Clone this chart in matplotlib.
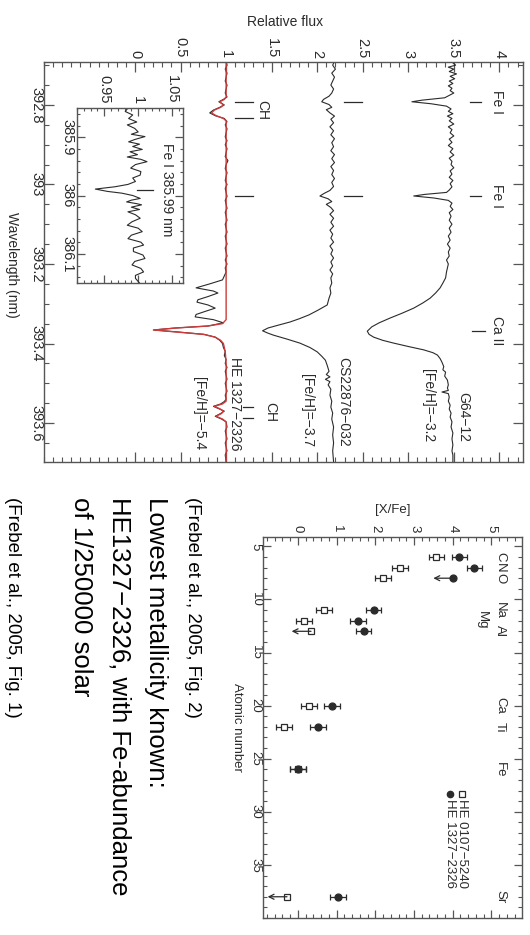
import matplotlib
matplotlib.use("Agg")
import matplotlib.pyplot as plt
from matplotlib.ticker import MultipleLocator

plt.rcParams['font.family'] = ['Liberation Sans', 'DejaVu Sans']

W, H, DPI = 530, 935, 100
INK = '#2b2b2b'
FRAME = '#555555'
RED = '#d03a3a'

# ---- Spektre (bølgelængde i nm, relativ flux) ----
g64_wl = [392.690, 392.700, 392.705, 392.710, 392.716, 392.722, 392.728, 392.734, 392.740, 392.746,
          392.752, 392.758, 392.764, 392.770, 392.776, 392.782, 392.788, 392.792, 392.797, 392.803,
          392.810, 392.816, 392.822, 392.828, 392.834, 392.840, 392.848, 392.855, 392.862, 392.870,
          392.878, 392.886, 392.894, 392.902, 392.910, 392.918, 392.926, 392.934, 392.942, 392.950,
          392.958, 392.966, 392.974, 392.982, 392.990, 392.998, 393.006, 393.014, 393.020, 393.025,
          393.029, 393.034, 393.040, 393.047, 393.055, 393.063, 393.071, 393.080, 393.090, 393.100,
          393.110, 393.120, 393.130, 393.140, 393.150, 393.160, 393.170, 393.180, 393.190, 393.200,
          393.210, 393.220, 393.235, 393.248, 393.260, 393.273, 393.286, 393.298, 393.311, 393.324,
          393.336, 393.348, 393.358, 393.369, 393.377, 393.384, 393.392, 393.399, 393.408, 393.416,
          393.423, 393.429, 393.438, 393.447, 393.458, 393.466, 393.472, 393.482, 393.492, 393.504,
          393.512, 393.518, 393.522, 393.526, 393.535, 393.545, 393.555, 393.565, 393.575, 393.585,
          393.597, 393.610, 393.625, 393.640, 393.655, 393.670, 393.681, 393.698]
g64_flux = [3.47, 3.52, 3.44, 3.50, 3.45, 3.53, 3.46, 3.51, 3.45, 3.49,
            3.44, 3.48, 3.46, 3.50, 3.45, 3.40, 3.15, 3.04, 3.25, 3.42,
            3.47, 3.44, 3.49, 3.43, 3.48, 3.45, 3.50, 3.44, 3.48, 3.46,
            3.50, 3.45, 3.48, 3.44, 3.49, 3.46, 3.50, 3.45, 3.48, 3.47,
            3.50, 3.46, 3.48, 3.45, 3.49, 3.46, 3.48, 3.45, 3.42, 3.18,
            3.06, 3.28, 3.44, 3.48, 3.46, 3.49, 3.45, 3.47, 3.45, 3.48,
            3.45, 3.47, 3.44, 3.46, 3.43, 3.46, 3.44, 3.45, 3.42, 3.44,
            3.43, 3.42, 3.41, 3.38, 3.35, 3.30, 3.24, 3.16, 3.06, 2.93,
            2.80, 2.68, 2.60, 2.55, 2.57, 2.62, 2.72, 2.84, 3.01, 3.17,
            3.27, 3.32, 3.35, 3.37, 3.39, 3.38, 3.41, 3.40, 3.43, 3.44,
            3.43, 3.44, 3.37, 3.44, 3.45, 3.44, 3.46, 3.45, 3.47, 3.46,
            3.48, 3.47, 3.49, 3.48, 3.49, 3.48, 3.49, 3.49]

cs_wl = [392.690, 392.700, 392.710, 392.720, 392.730, 392.740, 392.750, 392.760, 392.770, 392.778,
         392.786, 392.792, 392.799, 392.806, 392.812, 392.820, 392.828, 392.836, 392.845, 392.855,
         392.865, 392.875, 392.885, 392.895, 392.905, 392.915, 392.925, 392.935, 392.945, 392.955,
         392.965, 392.975, 392.985, 392.995, 393.005, 393.015, 393.022, 393.029, 393.036, 393.043,
         393.050, 393.058, 393.066, 393.075, 393.085, 393.095, 393.105, 393.115, 393.125, 393.135,
         393.145, 393.155, 393.165, 393.175, 393.185, 393.195, 393.205, 393.215, 393.225, 393.235,
         393.248, 393.260, 393.273, 393.286, 393.303, 393.316, 393.328, 393.338, 393.346, 393.354,
         393.361, 393.368, 393.374, 393.379, 393.389, 393.399, 393.410, 393.421, 393.432, 393.442,
         393.455, 393.470, 393.478, 393.484, 393.490, 393.496, 393.504, 393.515, 393.530, 393.545,
         393.560, 393.575, 393.590, 393.610, 393.630, 393.650, 393.670, 393.698]
cs_flux = [2.19, 2.17, 2.20, 2.16, 2.19, 2.17, 2.15, 2.18, 2.16, 2.13,
           2.07, 2.05, 2.13, 2.16, 2.10, 2.14, 2.19, 2.15, 2.18, 2.14,
           2.18, 2.15, 2.19, 2.16, 2.18, 2.15, 2.19, 2.16, 2.19, 2.15,
           2.18, 2.16, 2.19, 2.16, 2.18, 2.14, 2.08, 2.03, 2.12, 2.16,
           2.10, 2.15, 2.18, 2.14, 2.18, 2.15, 2.18, 2.14, 2.17, 2.15,
           2.18, 2.14, 2.17, 2.15, 2.18, 2.15, 2.17, 2.14, 2.17, 2.15,
           2.16, 2.14, 2.15, 2.13, 2.11, 2.01, 1.91, 1.80, 1.70, 1.57,
           1.46, 1.40, 1.46, 1.52, 1.67, 1.81, 1.92, 2.00, 2.05, 2.09,
           2.11, 2.13, 2.10, 2.14, 2.09, 2.14, 2.12, 2.15, 2.14, 2.16,
           2.15, 2.17, 2.16, 2.18, 2.17, 2.18, 2.17, 2.18]

he_obs_wl = [392.690, 392.700, 392.710, 392.720, 392.730, 392.740, 392.750, 392.760, 392.770, 392.780,
             392.786, 392.792, 392.800, 392.806, 392.813, 392.820, 392.827, 392.834, 392.842, 392.850,
             392.860, 392.870, 392.880, 392.890, 392.900, 392.910, 392.920, 392.930, 392.940, 392.950,
             392.960, 392.970, 392.980, 392.990, 393.000, 393.010, 393.020, 393.030, 393.040, 393.050,
             393.060, 393.070, 393.080, 393.090, 393.100, 393.110, 393.120, 393.130, 393.140, 393.150,
             393.160, 393.170, 393.180, 393.190, 393.200, 393.210, 393.220, 393.230, 393.240, 393.250,
             393.260, 393.268, 393.273, 393.282, 393.290, 393.296, 393.303, 393.311, 393.320, 393.327,
             393.333, 393.340, 393.348, 393.356, 393.361, 393.366, 393.371, 393.377, 393.384, 393.392,
             393.400, 393.410, 393.420, 393.430, 393.440, 393.450, 393.460, 393.470, 393.480, 393.490,
             393.500, 393.510, 393.520, 393.530, 393.540, 393.546, 393.552, 393.558, 393.564, 393.570,
             393.576, 393.583, 393.590, 393.597, 393.610, 393.620, 393.630, 393.640, 393.650, 393.660,
             393.670, 393.680, 393.698]
he_obs_flux = [1.00, 1.01, 0.99, 1.01, 1.00, 0.99, 1.01, 1.00, 0.99, 1.01,
               0.97, 0.92, 0.98, 0.93, 0.86, 0.82, 0.88, 0.98, 1.01, 0.99,
               1.01, 1.00, 0.99, 1.01, 0.99, 1.01, 1.00, 0.99, 1.02, 1.00,
               0.99, 1.01, 1.00, 0.99, 1.01, 0.99, 1.00, 1.01, 0.99, 1.00,
               1.01, 0.99, 1.00, 1.01, 0.99, 1.00, 1.01, 0.99, 1.00, 1.01,
               0.99, 1.00, 1.01, 0.99, 1.01, 0.99, 1.00, 0.98, 0.96, 0.82,
               0.67, 0.86, 0.91, 0.80, 0.69, 0.68, 0.80, 0.88, 0.76, 0.67,
               0.66, 0.86, 0.97, 0.80, 0.44, 0.20, 0.47, 0.76, 0.88, 0.93,
               0.96, 0.97, 0.99, 0.98, 1.00, 0.99, 1.01, 0.99, 1.00, 1.01,
               0.99, 1.00, 1.01, 0.99, 1.00, 0.98, 0.94, 0.86, 0.92, 0.98,
               0.94, 0.88, 0.95, 1.00, 1.01, 0.99, 1.00, 1.01, 0.99, 1.00,
               1.01, 0.99, 1.00]

he_model_wl = [392.690, 392.780, 392.786, 392.792, 392.800, 392.806, 392.813, 392.820, 392.827, 392.834,
               392.840, 393.340, 393.350, 393.356, 393.361, 393.366, 393.371, 393.377, 393.384, 393.392,
               393.400, 393.420, 393.450, 393.545, 393.552, 393.558, 393.564, 393.570, 393.576, 393.583,
               393.590, 393.597, 393.698]
he_model_flux = [1.00, 1.00, 0.98, 0.93, 0.97, 0.94, 0.87, 0.84, 0.89, 0.97,
                 1.00, 1.00, 0.96, 0.80, 0.45, 0.21, 0.45, 0.75, 0.88, 0.94,
                 0.97, 0.99, 1.00, 1.00, 0.96, 0.87, 0.93, 0.97, 0.95, 0.89,
                 0.96, 1.00, 1.00]

# Indsat: Fe I 385.99 nm i HE 1327-2326
inset_wl = [385.850, 385.856, 385.862, 385.868, 385.874, 385.879, 385.885, 385.891, 385.895, 385.899,
            385.904, 385.908, 385.912, 385.916, 385.921, 385.925, 385.930, 385.934, 385.938, 385.942,
            385.947, 385.953, 385.959, 385.965, 385.970, 385.976, 385.981, 385.985, 385.989, 385.993,
            385.996, 386.000, 386.005, 386.008, 386.011, 386.014, 386.016, 386.020, 386.024, 386.028,
            386.033, 386.039, 386.045, 386.051, 386.056, 386.062, 386.068, 386.074, 386.080, 386.085,
            386.090, 386.096, 386.102, 386.108, 386.113, 386.119, 386.125, 386.131, 386.137, 386.142,
            386.150]
inset_flux = [0.985, 0.981, 0.992, 0.986, 0.998, 0.984, 0.995, 1.000, 0.990, 1.010,
              0.995, 0.986, 1.002, 0.992, 1.006, 0.988, 0.999, 0.984, 1.004, 1.013,
              0.996, 0.989, 1.004, 1.003, 0.992, 0.996, 0.985, 0.966, 0.937, 0.955,
              0.976, 0.992, 1.003, 0.990, 0.983, 0.998, 1.005, 0.990, 1.002, 0.985,
              0.996, 1.003, 0.991, 0.984, 1.000, 1.006, 0.990, 0.985, 1.004, 1.008,
              0.993, 0.993, 1.007, 1.010, 0.995, 0.991, 1.004, 1.008, 0.996, 0.996,
              1.002]

# Linjemarkeringer
fe_lines = [392.792, 393.029]
ca_line = 393.369
ch_lines_top = [392.792, 392.834]
ch_lines_bottom = [393.560, 393.587]
inset_line = 385.99

flux_ticks = [0, 0.5, 1, 1.5, 2, 2.5, 3, 3.5, 4]
flux_labels = ['0', '0.5', '1', '1.5', '2', '2.5', '3', '3.5', '4']
wl_ticks = [392.8, 393.0, 393.2, 393.4, 393.6]
wl_labels = ['392.8', '393', '393.2', '393.4', '393.6']
inset_flux_ticks = [0.95, 1.0, 1.05]
inset_flux_labels = ['0.95', '1', '1.05']
inset_wl_ticks = [385.9, 386.0, 386.1]
inset_wl_labels = ['385.9', '386', '386.1']

# ---- Grundstofhyppigheder [X/Fe] ----
elements = ['C', 'N', 'O', 'Na', 'Mg', 'Al', 'Ca', 'Ti', 'Fe', 'Sr']
atomic_z = [6, 7, 8, 11, 12, 13, 20, 22, 26, 38]
xfe_he1327 = [4.17, 4.56, 4.00, 1.96, 1.55, 1.70, 0.88, 0.52, 0.00, 1.04]
lim_he1327 = [False, False, True, False, False, False, False, False, False, False]
xfe_he0107 = [3.58, 2.64, 2.20, 0.67, 0.16, 0.34, 0.29, -0.36, 0.00, -0.28]
lim_he0107 = [False, False, False, False, False, True, False, False, False, True]
xfe_err = 0.2
xfe_ticks = [0, 1, 2, 3, 4, 5]
z_ticks = [5, 10, 15, 20, 25, 30, 35]


def box(x0, y0, x1, y1):
    # pixel-boks (top-venstre origo) -> figurbrøk
    return [x0 / W, 1 - y1 / H, (x1 - x0) / W, (y1 - y0) / H]


def style(a, size, major_len, minor_len, xpad, ypad):
    for s in a.spines.values():
        s.set_color(FRAME)
        s.set_linewidth(1.0)
    a.tick_params(which='both', direction='in', top=True, bottom=True, left=True, right=True,
                  labeltop=True, labelbottom=False, colors=FRAME, labelcolor=INK, labelsize=size)
    a.tick_params(which='major', length=major_len, width=0.9)
    a.tick_params(which='minor', length=minor_len, width=0.8)
    a.tick_params(axis='x', labelrotation=-90, pad=xpad)
    a.tick_params(axis='y', labelrotation=-90, pad=ypad)
    plt.setp(a.get_yticklabels(), va='center')


fig = plt.figure(figsize=(W / DPI, H / DPI), dpi=DPI)
fig.patch.set_facecolor('white')

# ---- Hovedpanel: spektre ----
ax = fig.add_axes(box(44, 62, 523, 462))
ax.plot(g64_flux, g64_wl, color=INK, lw=0.8)
ax.plot(cs_flux, cs_wl, color=INK, lw=0.8)
ax.plot(he_obs_flux, he_obs_wl, color=INK, lw=0.8)
ax.plot(he_model_flux, he_model_wl, color=RED, lw=1.0)
ax.set_xlim(-1.0, 4.26)
ax.set_ylim(393.698, 392.692)
ax.set_xticks(flux_ticks, flux_labels)
ax.set_yticks(wl_ticks, wl_labels)
ax.xaxis.set_minor_locator(MultipleLocator(0.1))
ax.yaxis.set_minor_locator(MultipleLocator(0.05))
style(ax, 10.5, 7, 3.5, 3, 0.5)

for wl in fe_lines:
    ax.plot([3.68, 3.80], [wl, wl], color=INK, lw=0.9)
    ax.plot([2.29, 2.49], [wl, wl], color=INK, lw=0.9)
    ax.text(3.97, wl, 'Fe I', rotation=-90, ha='center', va='center', fontsize=10, color=INK)
ax.plot([1.10, 1.29], [fe_lines[1], fe_lines[1]], color=INK, lw=0.9)
ax.plot([3.70, 3.84], [ca_line, ca_line], color=INK, lw=0.9)
ax.text(3.97, ca_line, 'Ca II', rotation=-90, ha='center', va='center', fontsize=10, color=INK)
for wl in ch_lines_top:
    ax.plot([1.10, 1.29], [wl, wl], color=INK, lw=0.9)
ax.text(1.40, sum(ch_lines_top) / 2, 'CH', rotation=-90, ha='center', va='center', fontsize=10, color=INK)
for wl in ch_lines_bottom:
    ax.plot([1.18, 1.29], [wl, wl], color=INK, lw=0.9)
ax.text(1.48, sum(ch_lines_bottom) / 2, 'CH', rotation=-90, ha='center', va='center', fontsize=10, color=INK)

star_labels = [('G64\u221212', 3.60, 393.648), ('[Fe/H]=\u22123.2', 3.22, 393.648),
               ('CS22876\u2212032', 2.29, 393.66), ('[Fe/H]=\u22123.7', 1.89, 393.66),
               ('HE 1327\u22122326', 1.10, 393.668), ('[Fe/H]=\u22125.4', 0.70, 393.668)]
for txt, fx, wl in star_labels:
    ax.text(fx, wl, txt, rotation=-90, ha='center', va='bottom', fontsize=10, color=INK)

fig.text(285 / W, 1 - 22 / H, 'Relative flux', ha='center', va='center', fontsize=10, color=INK)
fig.text(12 / W, 1 - 265 / H, 'Wavelength (nm)', rotation=-90, ha='center', va='center',
         fontsize=10, color=INK)

# ---- Indsat panel ----
axi = fig.add_axes(box(77, 108, 183, 283))
axi.plot(inset_flux, inset_wl, color=INK, lw=0.8)
axi.set_xlim(0.910, 1.066)
axi.set_ylim(386.15, 385.85)
axi.set_xticks(inset_flux_ticks, inset_flux_labels)
axi.set_yticks(inset_wl_ticks, inset_wl_labels)
axi.xaxis.set_minor_locator(MultipleLocator(0.01))
axi.yaxis.set_minor_locator(MultipleLocator(0.02))
style(axi, 10.5, 5.5, 2.5, 3, 2)
axi.plot([0.999, 1.022], [inset_line, inset_line], color=INK, lw=0.9)
axi.text(1.043, inset_line, 'Fe I 385.99 nm', rotation=-90, ha='center', va='center',
         fontsize=10, color=INK)

# ---- Nederste panel: [X/Fe] mod atomnummer ----
ax2 = fig.add_axes(box(263, 537, 522, 918))
for xfe, lims, mk, face, ms in [(xfe_he0107, lim_he0107, 's', 'white', 4.0),
                                (xfe_he1327, lim_he1327, 'o', INK, 5.0)]:
    zs = [z for z, l in zip(atomic_z, lims) if not l]
    xs = [x for x, l in zip(xfe, lims) if not l]
    ax2.errorbar(xs, zs, xerr=xfe_err, fmt=mk, ms=ms, mfc=face, mec=INK, mew=0.9,
                 ecolor=INK, elinewidth=0.9, capsize=2.5, capthick=0.9, zorder=3)
    for z, x, l in zip(atomic_z, xfe, lims):
        if l:
            ax2.plot([x], [z], marker=mk, ms=ms, mfc=face, mec=INK, mew=0.9, ls='none', zorder=3)
            ax2.annotate('', xy=(x - 0.5, z), xytext=(x, z),
                         arrowprops=dict(arrowstyle='->', color=INK, lw=0.9,
                                         shrinkA=0, shrinkB=0, mutation_scale=9))

for el, z in zip(elements, atomic_z):
    lx = 4.75 if el == 'Mg' else 5.22
    ax2.text(lx, z, el, rotation=-90, ha='center', va='center', fontsize=9.5, color=INK)

# håndlavet forklaring (roteret)
ax2.plot([4.24], [28.3], marker='s', ms=4.0, mfc='white', mec=INK, mew=0.9, ls='none')
ax2.plot([3.92], [28.3], marker='o', ms=4.5, mfc=INK, mec=INK, ls='none')
ax2.text(4.24, 28.8, 'HE 0107\u22125240', rotation=-90, ha='center', va='top', fontsize=9.5, color=INK)
ax2.text(3.92, 28.8, 'HE 1327\u22122326', rotation=-90, ha='center', va='top', fontsize=9.5, color=INK)

ax2.set_xlim(-0.9, 5.79)
ax2.set_ylim(40.0, 4.12)
ax2.set_xticks(xfe_ticks, [str(t) for t in xfe_ticks])
ax2.set_yticks(z_ticks, [str(t) for t in z_ticks])
ax2.xaxis.set_minor_locator(MultipleLocator(0.2))
ax2.yaxis.set_minor_locator(MultipleLocator(1))
style(ax2, 9.5, 6, 3, 3, 1)

fig.text(393 / W, 1 - 510 / H, '[X/Fe]', ha='center', va='center', fontsize=9.5, color=INK)
fig.text(237 / W, 1 - 727 / H, 'Atomic number', rotation=-90, ha='center', va='center',
         fontsize=9.5, color=INK)

# ---- Tekstspalte ----
top = 1 - 497 / H
fig.text(192 / W, top, '(Frebel et al., 2005, Fig. 2)', rotation=-90, ha='center', va='top',
         fontsize=13.5, color='black')
fig.text(156 / W, top, 'Lowest metallicity known:', rotation=-90, ha='center', va='top',
         fontsize=18.5, color='black')
fig.text(119 / W, top, 'HE1327\u22122326, with Fe-abundance', rotation=-90, ha='center', va='top',
         fontsize=18.5, color='black')
fig.text(81 / W, top, 'of 1/250000 solar', rotation=-90, ha='center', va='top',
         fontsize=18.5, color='black')
fig.text(12 / W, top, '(Frebel et al., 2005, Fig. 1)', rotation=-90, ha='center', va='top',
         fontsize=13.5, color='black')

fig.savefig('out.png', dpi=DPI)
